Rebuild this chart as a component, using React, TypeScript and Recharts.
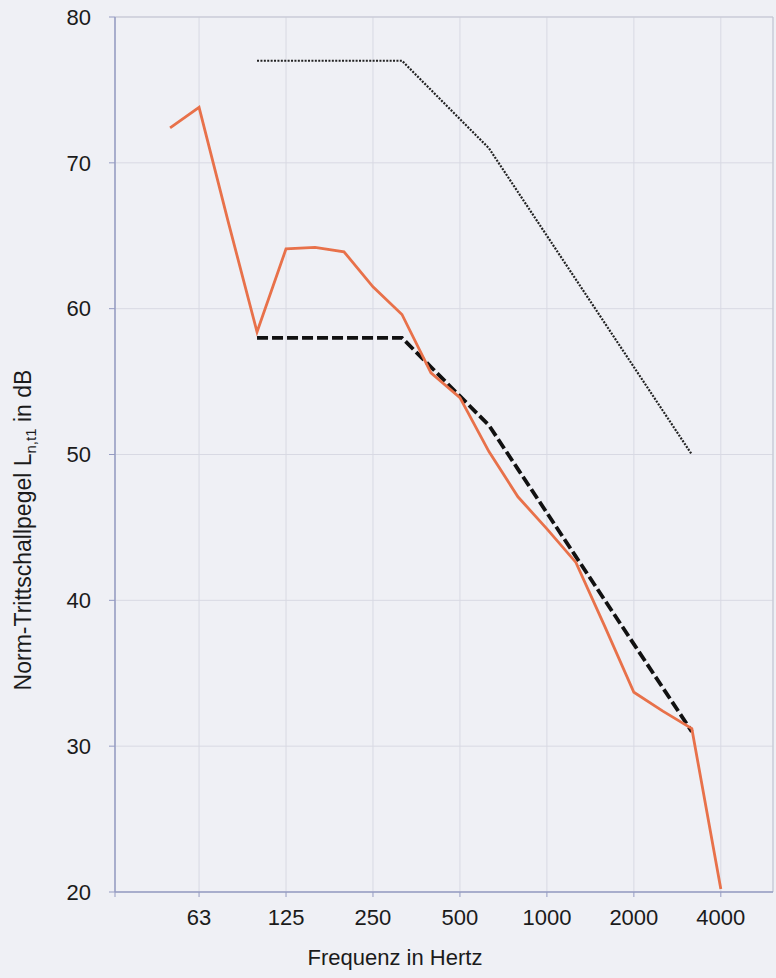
import { LineChart, Line, XAxis, YAxis, CartesianGrid, ReferenceLine, Label } from 'recharts';

// third-octave band centre frequencies (Hz)
const BANDS = ['50', '63', '80', '100', '125', '160', '200', '250', '315', '400', '500', '630', '800', '1000', '1250', '1600', '2000', '2500', '3150', '4000'];

// measured normalised impact sound level L'n,t1 (dB)
const MEASURED = [72.4, 73.8, 66.0, 58.4, 64.1, 64.2, 63.9, 61.5, 59.6, 55.6, 53.9, 50.2, 47.1, 44.9, 42.6, 38.2, 33.7, 32.4, 31.2, 20.2];

// shifted reference curve (dashed)
const SHIFTED_REF = [null, null, null, 58, 58, 58, 58, 58, 58, 56, 54, 52, 49, 46, 43, 40, 37, 34, 31, null];

// upper reference curve (dotted)
const UPPER_REF = [null, null, null, 77, 77, 77, 77, 77, 77, 75, 73, 71, 68, 65, 62, 59, 56, 53, 50, null];

const Y_TICKS = [20, 30, 40, 50, 60, 70, 80];
const X_LABELS = ['63', '125', '250', '500', '1000', '2000', '4000'];

const X_MIN = -1.9;
const X_MAX = 20.8;

const FONT = "'Liberation Sans', Arial, sans-serif";
const TEXT = '#1b1b1b';
const AXIS = '#959bc2';

const data = BANDS.map((hz, idx) => ({
  hz,
  idx,
  measured: MEASURED[idx],
  shifted: SHIFTED_REF[idx],
  upper: UPPER_REF[idx],
}));

const xTicks = [X_MIN, ...X_LABELS.map((l) => BANDS.indexOf(l))];

const tickStyle = { fill: TEXT, fontSize: 22, fontFamily: FONT };

function XTitle() {
  return (
    <text x={395} y={959} textAnchor="middle" dominantBaseline="middle" fill={TEXT} fontSize={22} fontFamily={FONT}>
      Frequenz in Hertz
    </text>
  );
}

function YTitle() {
  return (
    <text x={31} y={530} transform="rotate(-90, 31, 530)" textAnchor="middle" fill={TEXT} fontSize={23} fontFamily={FONT}>
      Norm-Trittschallpegel L
      <tspan fontSize={15} dy={5}>n,t1</tspan>
      <tspan dy={-5}> in dB</tspan>
    </text>
  );
}

export default function App() {
  return (
    <div style={{ position: 'absolute', left: 0, top: 0, width: 776, height: 978, background: '#eff0f5' }}>
      <LineChart width={776} height={978} data={data} margin={{ top: 17, right: 3, left: 0, bottom: 0 }}>
        <CartesianGrid stroke="#d8d9e3" />
        <XAxis
          type="number"
          dataKey="idx"
          domain={[X_MIN, X_MAX]}
          ticks={xTicks}
          interval={0}
          tickFormatter={(v: number) => (Number.isInteger(v) ? BANDS[v] : '')}
          height={86}
          tickSize={5}
          tickMargin={12}
          tick={tickStyle}
          axisLine={{ stroke: AXIS, strokeWidth: 1.5 }}
          tickLine={{ stroke: AXIS }}
        >
          <Label content={<XTitle />} />
        </XAxis>
        <YAxis
          type="number"
          domain={[20, 80]}
          ticks={Y_TICKS}
          interval={0}
          width={115}
          tickSize={6}
          tickMargin={18}
          tick={tickStyle}
          axisLine={{ stroke: AXIS, strokeWidth: 1.5 }}
          tickLine={{ stroke: AXIS }}
        >
          <Label content={<YTitle />} />
        </YAxis>
        <ReferenceLine y={80} stroke="#c3c5d2" />
        <ReferenceLine x={X_MAX} stroke="#c3c5d2" />
        <Line type="linear" dataKey="upper" stroke="#222" strokeWidth={2.2} strokeDasharray="2 1.4" dot={false} activeDot={false} isAnimationActive={false} />
        <Line type="linear" dataKey="shifted" stroke="#111" strokeWidth={3.8} strokeDasharray="11 4" dot={false} activeDot={false} isAnimationActive={false} />
        <Line type="linear" dataKey="measured" stroke="#e8714a" strokeWidth={2.8} dot={false} activeDot={false} isAnimationActive={false} />
      </LineChart>
    </div>
  );
}
